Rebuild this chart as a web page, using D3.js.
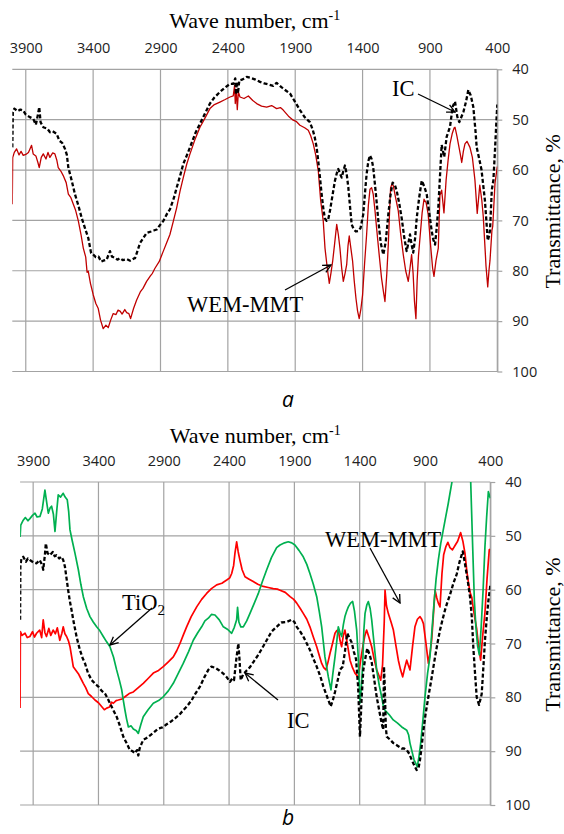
<!DOCTYPE html>
<html>
<head>
<meta charset="utf-8">
<script src="https://d3js.org/d3.v7.min.js"></script>
<style>
  body { margin: 0; background: #fff; }
  #main svg { display: block; }
</style>
</head>
<body>
<div id="main"></div>
<script>
// wave number ticks and transmittance ticks
const waveTicks = [3900, 3400, 2900, 2400, 1900, 1400, 900, 400];
const transTicks = [40, 50, 60, 70, 80, 90, 100];

// panel a: [wave number, transmittance %]
const icA = [[4000,55.5],[3996,48.5],[3985,47.8],[3960,48.3],[3940,48.0],[3919,48.2],[3900,49.0],[3870,49.5],[3845,49.8],[3825,51],[3810,49],[3800,47.5],[3790,50.5],[3770,51.5],[3740,51.8],[3720,52.5],[3700,52.3],[3671,52.8],[3650,54.2],[3630,54.6],[3609,55.8],[3595,57],[3584,59.5],[3560,62],[3535,64.8],[3510,67],[3485,69.5],[3460,71.6],[3436,73.5],[3415,76.5],[3399,76.8],[3380,77.3],[3360,77.2],[3340,78.2],[3325,78],[3300,77.8],[3275,76.1],[3260,77.2],[3240,77.4],[3220,77.8],[3200,77.5],[3180,77.9],[3150,77.7],[3126,78],[3100,77.6],[3089,77.5],[3070,76],[3052,74.5],[3030,73.6],[3003,72.5],[2970,72.2],[2950,72.0],[2928,71.8],[2900,70.8],[2879,70.1],[2850,68.6],[2830,67.8],[2800,65.5],[2780,63.5],[2755,61.2],[2731,58.8],[2700,56.8],[2681,55.5],[2640,52.6],[2607,50.8],[2570,48.8],[2533,46.8],[2500,45.6],[2459,44.5],[2420,43.6],[2384,42.9],[2360,42.9],[2345,41.8],[2340,45],[2335,42.5],[2325,44.8],[2315,42.2],[2290,42.0],[2260,41.5],[2230,41.7],[2200,42],[2161,42.5],[2130,42.8],[2100,43],[2063,43.3],[2038,42.7],[2000,43.6],[1970,44.2],[1939,44.8],[1900,46.5],[1865,48.1],[1830,49.5],[1791,50.5],[1770,52],[1755,53.5],[1741,55.5],[1728,58.5],[1716,61.5],[1705,64.5],[1692,67.5],[1680,69.6],[1667,70.1],[1655,69.8],[1642,68.1],[1620,64.5],[1605,62.1],[1590,60.5],[1580,59.8],[1567,60.8],[1555,61.5],[1543,60.2],[1531,59.1],[1518,60.8],[1506,63.4],[1494,67],[1481,70.8],[1465,71.8],[1450,72.2],[1432,72.1],[1415,71.5],[1395,68.8],[1382,64.5],[1370,60.8],[1357,58.2],[1345,57.1],[1333,57.8],[1321,59.5],[1302,64.5],[1283,70.1],[1265,74.5],[1246,76.8],[1228,74.2],[1209,68.8],[1193,65],[1177,62.5],[1160,63.0],[1147,64.1],[1128,66.6],[1110,69.5],[1090,73.5],[1073,76.1],[1060,74.5],[1048,72.8],[1036,74.8],[1024,76.4],[1010,73.5],[998,69.5],[980,65.5],[961,62.1],[943,63.2],[924,64.8],[905,68.5],[887,72.1],[875,73.8],[862,74.8],[850,71.5],[838,67.5],[825,61],[813,55],[794,57.4],[776,53.4],[751,51.4],[731,47.4],[714,46.4],[697,49.4],[682,50.5],[652,48.5],[632,46.4],[615,44.1],[597,45.2],[578,47.5],[562,52.2],[553,55.5],[534,57.8],[517,60],[492,66],[480,70.5],[471,74],[460,73],[454,71.9],[441,64],[429,62],[417,56],[408,51],[400,47]];

const wemA = [[4000,66.8],[3997,57.5],[3985,56.5],[3968,55.8],[3950,57],[3935,56.3],[3919,57.1],[3900,56.9],[3880,56.5],[3857,55.1],[3845,56.8],[3825,57.2],[3810,58.5],[3800,59.5],[3785,57.5],[3770,56.8],[3750,57.8],[3735,56.5],[3721,57.5],[3700,56.6],[3684,56.8],[3670,58],[3659,59.5],[3640,60.2],[3622,61.1],[3600,62.5],[3584,64.8],[3565,65.5],[3547,66.8],[3530,68],[3510,70.1],[3490,72.8],[3473,75.5],[3455,77.3],[3445,80.3],[3436,80.1],[3420,82.5],[3399,84.8],[3380,86.5],[3362,87.5],[3345,89.8],[3325,91.5],[3305,90.8],[3288,91.3],[3270,89.8],[3251,88.5],[3230,88.7],[3215,87.8],[3200,88],[3185,88.6],[3165,87.7],[3151,88.3],[3135,88.5],[3122,89.5],[3100,87.5],[3077,85.8],[3050,84.2],[3030,83.5],[3003,82.1],[2975,81.0],[2960,80.5],[2941,79.5],[2910,78.2],[2879,76.1],[2855,74.5],[2830,72.8],[2805,70.2],[2780,67.5],[2755,64.2],[2731,61.5],[2705,58.8],[2681,56.8],[2645,54],[2607,51.5],[2570,49.7],[2533,47.8],[2500,47],[2459,46.5],[2420,46],[2384,45.5],[2360,45.3],[2350,43.2],[2345,46.8],[2338,44.0],[2330,48],[2322,44.5],[2310,45.5],[2280,45.8],[2248,45.3],[2215,46.2],[2186,46.8],[2150,47.3],[2112,47.5],[2075,47.2],[2038,47.8],[2010,47.6],[1989,48.1],[1950,49.3],[1915,50.1],[1890,50.4],[1865,51.1],[1830,51.6],[1803,52.1],[1785,53.2],[1766,54.8],[1748,57],[1729,60.1],[1711,66.1],[1692,70.1],[1679,75.5],[1662,79.5],[1647,82.5],[1635,80.5],[1622,78.1],[1607,74.5],[1592,70.8],[1580,72.8],[1568,75.5],[1555,79.5],[1543,82.1],[1530,80.5],[1518,78.8],[1508,75],[1499,73.1],[1487,75.5],[1474,78.1],[1462,82],[1449,85.5],[1437,88],[1425,89.5],[1412,87.5],[1400,84.8],[1385,78.5],[1370,72.8],[1357,67],[1345,63.8],[1333,63.5],[1321,64.8],[1308,68],[1296,71.5],[1278,76.5],[1259,81.5],[1246,84],[1234,86.1],[1220,80.5],[1209,74.8],[1200,68.5],[1192,63.5],[1182,62.8],[1172,63.1],[1155,65.5],[1135,68.1],[1118,72.5],[1098,76.8],[1080,80],[1061,82.1],[1048,79.5],[1036,76.8],[1025,80.5],[1015,86],[1004,89.5],[995,82],[985,77],[974,73.5],[958,68.5],[944,65.8],[928,66.5],[913,68.8],[895,75],[880,79.5],[870,81.1],[855,78],[838,75.5],[826,65],[813,64],[796,68.5],[780,62],[765,58],[751,54.8],[735,52.8],[720,51.6],[714,51.5],[700,53.2],[689,54.8],[675,56.8],[664,58.5],[652,56.3],[640,54.8],[625,54.3],[603,55.5],[585,57.5],[566,62],[549,68.6],[530,63],[515,66],[504,69.3],[490,76],[484,79],[471,83.2],[462,80],[454,77.9],[440,72],[434,71.2],[417,62.6],[400,59.3]];

// panel b: [wave number, transmittance %]
const icB = [[4000,65.6],[3998,55.7],[3990,54.2],[3976,53.9],[3955,54.8],[3940,54.2],[3925,54.5],[3900,54.9],[3874,55.1],[3850,54.5],[3830,55.5],[3823,56.3],[3810,53.5],[3803,51.4],[3790,53.2],[3772,53.6],[3750,53.0],[3735,53.8],[3721,53.6],[3700,54.2],[3683,53.9],[3670,54.5],[3657,55.7],[3645,57.8],[3632,60.1],[3620,62],[3606,63.8],[3590,66],[3568,68.7],[3555,70],[3542,71.2],[3520,72.8],[3503,73.7],[3480,75.5],[3452,76.8],[3425,77.5],[3401,78],[3375,78.8],[3350,79.3],[3330,80.2],[3312,81.1],[3290,82.2],[3261,83.6],[3240,85],[3210,87.3],[3185,88.5],[3159,89.8],[3140,90.0],[3121,90.4],[3105,89.8],[3095,90.8],[3085,89.5],[3070,88.6],[3057,87.9],[3035,87.6],[3006,87.1],[2975,86.5],[2942,85.8],[2910,85.6],[2878,85],[2845,84.5],[2814,83.9],[2780,83.2],[2751,82.4],[2720,81.6],[2686,80.5],[2655,79.2],[2623,78],[2590,76.3],[2559,74.9],[2535,74.3],[2508,74.5],[2475,75],[2444,75.6],[2420,76.2],[2393,77.1],[2375,76.5],[2362,76.8],[2345,73],[2329,70],[2320,73],[2311,76.8],[2300,76.2],[2291,75.7],[2265,75],[2240,74.4],[2210,73.3],[2176,72.1],[2145,70.8],[2112,69.4],[2075,67.8],[2036,66.9],[2000,66.1],[1959,66],[1921,65.6],[1900,66],[1882,66.9],[1855,67.8],[1832,68.7],[1805,70],[1781,71.2],[1755,72.8],[1729,74.3],[1700,76.2],[1678,78],[1660,79.2],[1640,80.5],[1622,81.7],[1605,80.5],[1589,79],[1570,77],[1551,74.9],[1530,74.3],[1513,71.5],[1495,68.1],[1478,69],[1461,69.8],[1445,71.5],[1428,72.9],[1412,78],[1398,87.3],[1385,80],[1372,74.9],[1355,72.5],[1342,70.9],[1325,72],[1308,73.5],[1290,76.5],[1270,79.9],[1250,82.5],[1232,84.8],[1220,86],[1214,74.3],[1208,78],[1200,85.5],[1193,87.3],[1170,87.8],[1142,88.5],[1110,89],[1078,89.5],[1060,89.5],[1040,89.8],[1020,90.5],[1002,91.6],[985,92.5],[964,93.5],[950,93.2],[938,91.6],[925,89],[912,86.1],[895,83],[874,79.9],[850,76.5],[823,72.5],[805,70],[785,67.5],[765,65.5],[747,63.8],[728,62.3],[709,61],[685,59],[657,57.1],[635,54.8],[611,52.9],[595,55],[575,58],[555,61.4],[542,65],[530,70.7],[517,75.5],[504,80],[486,81.4],[466,79.4],[452,74],[441,69.5],[428,65.5],[415,62.1],[402,59.7],[400,59]];

const tio2B = [[4000,50.2],[3995,48],[3976,47.1],[3960,46.6],[3940,47.2],[3925,46.8],[3905,46.2],[3886,45.8],[3870,46.5],[3848,46.4],[3830,45],[3810,41.5],[3795,44],[3784,45.8],[3770,44.8],[3759,44.5],[3745,46],[3733,49.2],[3720,45.5],[3708,42.4],[3690,42.8],[3670,42.1],[3655,42.8],[3639,43.3],[3628,45.5],[3618,48.9],[3600,51],[3580,53.2],[3554,56.3],[3535,59],[3516,61.3],[3490,63.5],[3465,65],[3440,66],[3414,66.9],[3390,67.6],[3363,68.7],[3340,69.6],[3312,70.6],[3285,72.5],[3261,74.9],[3240,76.8],[3222,78.6],[3210,80.5],[3197,82.4],[3185,84],[3171,85.5],[3150,85.3],[3133,85.9],[3110,86.2],[3095,86.7],[3075,85],[3057,83.6],[3020,82.3],[2980,81.1],[2940,80.6],[2904,79.9],[2865,78.8],[2827,77.4],[2790,75.6],[2751,73.7],[2710,71.5],[2674,69.4],[2640,68],[2610,66.9],[2585,65.8],[2559,65.3],[2535,64.6],[2508,64.7],[2475,65.6],[2444,66.9],[2410,67.4],[2380,68.1],[2360,67],[2342,65.6],[2335,63.3],[2325,66],[2310,66.9],[2291,66.9],[2265,65.8],[2240,64.4],[2210,62.7],[2176,60.7],[2145,58.5],[2112,56.3],[2075,54],[2036,52.2],[2010,51.7],[1975,51.3],[1947,51.1],[1920,51.3],[1896,51.7],[1865,52.7],[1832,53.9],[1805,55.3],[1781,57],[1755,59],[1729,61.3],[1710,64],[1691,66.9],[1678,69.8],[1666,72.5],[1652,74.5],[1640,76.2],[1620,78.6],[1605,75.5],[1589,72.5],[1575,69.5],[1564,66.9],[1550,68],[1538,68.7],[1525,66.5],[1513,65],[1500,64],[1487,63.2],[1470,62.5],[1454,62.2],[1440,64],[1423,67.5],[1410,73],[1398,81.1],[1387,78],[1377,73.8],[1368,67.5],[1359,64.4],[1345,62.8],[1334,62.2],[1320,63.5],[1308,65.6],[1290,70],[1270,74.9],[1250,77.8],[1232,79.9],[1220,81.5],[1206,82.4],[1175,83.2],[1143,84.2],[1110,84.8],[1078,85.5],[1060,85.8],[1040,86.1],[1025,87],[1015,88.5],[1000,90],[984,91.6],[970,92.3],[959,92.9],[946,91],[933,88.5],[915,84],[900,79.9],[880,75.5],[862,72.5],[845,67],[831,62.5],[815,58],[798,54.5],[780,51.5],[760,48.9],[740,46.3],[722,44],[708,42],[690,39.5],[680,37],[650,34],[600,34],[565,37],[550,40],[535,52],[522,62],[510,67],[497,70.5],[484,72.1],[470,67],[455,60],[441,52],[428,46.5],[415,41.8],[407,42.4],[400,43]];

const wemB = [[4000,82],[3998,67.8],[3985,68.5],[3962,68.1],[3945,68.9],[3925,68.7],[3905,67.8],[3890,68.8],[3874,68.1],[3850,67.5],[3835,68.9],[3823,65.6],[3810,68],[3798,68.7],[3780,67.2],[3765,68.5],[3747,67.5],[3730,68.2],[3715,67.1],[3696,69.4],[3680,68.1],[3670,66.9],[3657,68.2],[3644,68.7],[3630,69.5],[3618,70.6],[3605,72.5],[3593,74.3],[3575,74.9],[3554,75.6],[3535,76.5],[3516,77.4],[3498,78.2],[3478,79.3],[3455,79.8],[3427,80.5],[3400,81],[3376,81.7],[3355,82.3],[3337,82],[3315,81.8],[3300,80.9],[3286,81.1],[3265,80.6],[3248,80.5],[3220,80.3],[3197,79.9],[3165,79.3],[3133,79],[3095,78.2],[3057,77.4],[3020,76.5],[2980,75.5],[2940,75],[2904,74.3],[2865,73.4],[2827,72.5],[2800,71.3],[2776,70],[2750,68.4],[2725,66.9],[2690,65],[2648,63.2],[2610,61.8],[2572,60.7],[2535,59.8],[2495,59.1],[2455,58.8],[2418,58.2],[2395,57.8],[2380,57],[2365,55.5],[2355,53.2],[2342,51.1],[2330,53],[2317,54.5],[2300,56.3],[2278,57.6],[2250,58],[2215,58.5],[2180,59],[2138,59.4],[2100,59.6],[2062,59.8],[2030,59.9],[2010,60.1],[1970,60.5],[1933,61.3],[1905,61.8],[1882,62.5],[1855,63.5],[1832,64.4],[1805,65.5],[1781,66.9],[1755,68.8],[1729,70.6],[1710,72.2],[1691,73.7],[1675,74.5],[1658,74.9],[1643,73.5],[1627,71.8],[1608,70],[1589,68.1],[1575,67.6],[1564,67.5],[1550,69.5],[1538,70.6],[1525,68.5],[1513,67.5],[1495,70],[1474,73.1],[1455,74.5],[1436,75.5],[1420,76],[1411,76.2],[1392,73],[1372,70],[1360,68.5],[1347,67.5],[1330,68.8],[1308,70.6],[1290,72.8],[1270,74.9],[1255,75.8],[1239,76.8],[1225,74],[1212,66],[1206,60.1],[1195,63],[1181,64.4],[1160,66],[1142,67.5],[1122,70.5],[1104,73.1],[1088,74.8],[1071,76.2],[1055,74.5],[1040,73.1],[1028,74],[1015,74.9],[995,70.5],[977,66.9],[958,65.5],[938,65],[925,65.5],[912,66.3],[895,69.5],[874,73.7],[860,71.5],[849,69.4],[835,64.5],[823,60.1],[810,61.5],[798,62.5],[785,63.2],[770,57],[757,53.5],[740,52],[725,51.2],[709,52.2],[690,52.6],[670,51.8],[650,51],[627,49.4],[610,51],[594,53.2],[580,56.5],[568,58.6],[555,60.5],[542,61.4],[530,63.5],[517,65.5],[504,67.3],[490,70.5],[474,73.1],[458,68.5],[441,64.3],[425,58],[408,52.6],[400,52.5]];

const ctx = {
    W: 564,
    H: 834,
    serif: "'Liberation Serif', 'Times New Roman', serif",
    sans: "'Open Sans', 'Liberation Sans', sans-serif",
    grid: "#a3a3a3",
};

// layout of the two panels (pixels)
const panelA = {
    id: "a", left: 12.3, right: 497.3, top: 69.3, bottom: 371.5,
    titleY: 28.3, letterY: 407,
    series: [
        { data: wemA, color: "#c00000", width: 1.3 },
        { data: icA, color: "#000", width: 2.3, dash: "4,2.3" },
    ],
    notes: [
        { text: "IC", x: 392, y: 96, from: [418, 94], to: [455, 112] },
        { text: "WEM-MMT", x: 187, y: 312, from: [285, 290], to: [331, 265] },
    ],
};
const panelB = {
    id: "b", left: 20.1, right: 490.3, top: 482, bottom: 805,
    titleY: 443.3, letterY: 825,
    series: [
        { data: wemB, color: "#ff0000", width: 1.7 },
        { data: tio2B, color: "#00b050", width: 1.7 },
        { data: icB, color: "#000", width: 2.3, dash: "4,2.3" },
    ],
    notes: [
        { text: "TiO", sub: "2", x: 122, y: 610, from: [152, 608], to: [110, 645] },
        { text: "IC", x: 287, y: 728, from: [278, 700], to: [245, 673] },
        { text: "WEM-MMT", x: 325, y: 547, from: [370, 548], to: [400, 603] },
    ],
};

function CreatePanel(svgEl, p) {
    const g = svgEl.append("g").attr("id", "panel-" + p.id);
    const x = d3.scaleLinear().domain([4000, 400]).range([p.left, p.right]);
    const y = d3.scaleLinear().domain([40, 100]).range([p.top, p.bottom]);

    // grid
    g.append("g").selectAll("line")
        .data(waveTicks)
        .enter().append("line")
        .attr("x1", d => x(d)).attr("x2", d => x(d))
        .attr("y1", p.top).attr("y2", p.bottom)
        .style("stroke", ctx.grid).style("stroke-width", 1.2);
    g.append("g").selectAll("line")
        .data(transTicks)
        .enter().append("line")
        .attr("x1", p.left).attr("x2", p.right)
        .attr("y1", d => y(d)).attr("y2", d => y(d))
        .style("stroke", ctx.grid).style("stroke-width", 1.2);

    // right axis with ticks and labels
    const yAxis = g.append("g")
        .attr("transform", `translate(${p.right},0)`)
        .call(d3.axisRight(y).tickValues(transTicks).tickSize(5).tickSizeOuter(0).tickPadding(10));
    yAxis.select(".domain").style("stroke", ctx.grid).style("stroke-width", 1.2);
    yAxis.selectAll(".tick line").style("stroke", ctx.grid).style("stroke-width", 1.2);
    yAxis.selectAll("text")
        .style("font-family", ctx.sans).style("font-size", "14.5px").style("fill", "#222");

    // top axis labels
    const xAxis = g.append("g")
        .attr("transform", `translate(0,${p.top})`)
        .call(d3.axisTop(x).tickValues(waveTicks).tickFormat(d3.format("d")).tickSize(0).tickPadding(16));
    xAxis.select(".domain").remove();
    xAxis.selectAll("text")
        .style("font-family", ctx.sans).style("font-size", "14.5px").style("fill", "#222");

    // curves
    const clipId = "clip-" + p.id;
    g.append("clipPath").attr("id", clipId)
        .append("rect")
        .attr("x", p.left).attr("y", p.top)
        .attr("width", p.right - p.left).attr("height", p.bottom - p.top);
    const line = d3.line().x(d => x(d[0])).y(d => y(d[1]));
    g.append("g").attr("clip-path", `url(#${clipId})`)
        .selectAll("path")
        .data(p.series)
        .enter().append("path")
        .attr("d", d => line(d.data))
        .style("fill", "none")
        .style("stroke", d => d.color)
        .style("stroke-width", d => d.width)
        .style("stroke-dasharray", d => d.dash || null)
        .style("stroke-linejoin", "round");

    // axis titles
    const title = g.append("text")
        .attr("x", (p.left + p.right) / 2).attr("y", p.titleY)
        .attr("text-anchor", "middle")
        .style("font-family", ctx.serif).style("font-size", "22px")
        .text("Wave number, cm");
    title.append("tspan").attr("dy", -8).style("font-size", "14px").text("-1");

    const ymid = (p.top + p.bottom) / 2 - 9;
    g.append("text")
        .attr("transform", `translate(559.5,${ymid}) rotate(-90)`)
        .attr("text-anchor", "middle")
        .style("font-family", ctx.serif).style("font-size", "22px")
        .text("Transmittance, %");

    g.append("text")
        .attr("x", 288).attr("y", p.letterY)
        .attr("text-anchor", "middle")
        .style("font-family", ctx.sans).style("font-style", "italic").style("font-size", "21px")
        .text(p.id);

    // callouts
    const notes = g.append("g").selectAll("g").data(p.notes).enter().append("g");
    notes.append("line")
        .attr("x1", d => d.from[0]).attr("y1", d => d.from[1])
        .attr("x2", d => d.to[0]).attr("y2", d => d.to[1])
        .attr("marker-end", "url(#arrow)")
        .style("stroke", "#000").style("stroke-width", 1.3);
    const t = notes.append("text")
        .attr("x", d => d.x).attr("y", d => d.y)
        .style("font-family", ctx.serif).style("font-size", "22.5px")
        .text(d => d.text);
    t.filter(d => d.sub).append("tspan")
        .attr("dy", 5).style("font-size", "15px").text(d => d.sub);
}

function createViz() {
    const svgEl = d3.select("#main").append("svg")
        .attr("width", ctx.W).attr("height", ctx.H);
    svgEl.append("rect").attr("width", ctx.W).attr("height", ctx.H).style("fill", "#fff");

    svgEl.append("defs").append("marker")
        .attr("id", "arrow")
        .attr("viewBox", "0 0 10 10")
        .attr("refX", 9).attr("refY", 5)
        .attr("markerWidth", 10).attr("markerHeight", 10)
        .attr("markerUnits", "userSpaceOnUse")
        .attr("orient", "auto")
        .append("path")
        .attr("d", "M1,1 L9,5 L1,9")
        .style("fill", "none").style("stroke", "#000").style("stroke-width", 1.3);

    CreatePanel(svgEl, panelA);
    CreatePanel(svgEl, panelB);
}

createViz();
</script>
</body>
</html>
